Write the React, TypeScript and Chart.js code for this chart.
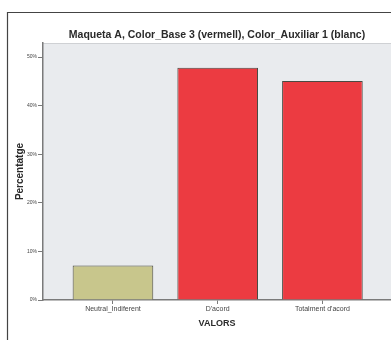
import React, { useEffect, useRef } from "react";
import { Chart, registerables } from "chart.js";

Chart.register(...registerables);

const chartTitle = "Maqueta A, Color_Base 3 (vermell), Color_Auxiliar 1 (blanc)";
const categories = ["Neutral_Indiferent", "D'acord", "Totalment d'acord"];
const percentages = [7.1, 47.8, 45.1];
const barColors = ["#c8c68c", "#ec3b41", "#ec3b41"];
const yTicks = [0, 10, 20, 30, 40, 50];
const yTickLabels = ["0%", "10%", "20%", "30%", "40%", "50%"];
const xTitle = "VALORS";
const yTitle = "Percentatge";

const backdrop = {
  id: "backdrop",
  beforeDraw(chart: any) {
    const { ctx, chartArea, width, height } = chart;
    ctx.save();
    ctx.fillStyle = "#ffffff";
    ctx.fillRect(0, 0, width, height);
    ctx.fillStyle = "#e9ebee";
    ctx.fillRect(chartArea.left, chartArea.top, chartArea.right - chartArea.left, chartArea.bottom - chartArea.top);
    ctx.strokeStyle = "#cfd1d4";
    ctx.lineWidth = 1;
    ctx.beginPath();
    ctx.moveTo(chartArea.left, chartArea.top + 0.5);
    ctx.lineTo(chartArea.right, chartArea.top + 0.5);
    ctx.stroke();
    ctx.strokeStyle = "#444444";
    ctx.lineWidth = 1.2;
    ctx.beginPath();
    ctx.moveTo(7.5, height);
    ctx.lineTo(7.5, 12.5);
    ctx.lineTo(width, 12.5);
    ctx.stroke();
    ctx.restore();
  },
};

export default function App() {
  const ref = useRef<HTMLCanvasElement | null>(null);
  useEffect(() => {
    if (!ref.current) return;
    const font = "'Liberation Sans', Arial, sans-serif";
    const chart = new Chart(ref.current, {
      type: "bar",
      data: {
        datasets: [
          {
            data: categories.map((c, i) => ({ x: i + 1, y: percentages[i] })),
            backgroundColor: barColors,
            borderColor: "#4a4a42",
            borderWidth: 1,
            categoryPercentage: 1,
            barPercentage: 0.77,
          },
        ],
      },
      plugins: [backdrop],
      options: {
        responsive: false,
        animation: false,
        layout: { padding: 0 },
        plugins: {
          legend: { display: false },
          tooltip: { enabled: false },
          title: {
            display: true,
            text: chartTitle,
            fullSize: false,
            color: "#2a2a2a",
            font: { family: font, size: 10.5, weight: "bold", lineHeight: 1.2 },
            padding: { top: 28.7, bottom: 1.7 },
          },
        },
        scales: {
          x: {
            type: "linear",
            offset: false,
            min: 0.332,
            max: 3.655,
            afterBuildTicks: (s: any) => {
              s.ticks = categories.map((_, i) => ({ value: i + 1 }));
            },
            afterFit: (s: any) => {
              s.height = 40;
            },
            grid: { offset: false, drawOnChartArea: false, drawTicks: true, tickLength: 4, color: "#7a7a7a" },
            border: { display: true, color: "#7a7a7a", width: 1.5 },
            ticks: {
              autoSkip: false,
              maxRotation: 0,
              padding: 1,
              color: "#444",
              font: { family: font, size: 7 },
              callback: (v: any) => categories[Number(v) - 1] ?? "",
            },
            title: {
              display: true,
              text: xTitle,
              color: "#2a2a2a",
              font: { family: font, size: 9, weight: "bold", lineHeight: 1.2 },
              padding: { top: 0, bottom: 10.6 },
            },
          },
          y: {
            min: 0,
            max: 52.9,
            afterBuildTicks: (s: any) => {
              s.ticks = yTicks.map((v) => ({ value: v }));
            },
            afterFit: (s: any) => {
              s.width = 43;
            },
            grid: { drawOnChartArea: false, drawTicks: true, tickLength: 5, color: "#7a7a7a" },
            border: { display: true, color: "#7a7a7a", width: 1.5 },
            ticks: {
              padding: 1,
              color: "#444",
              font: { family: font, size: 5 },
              callback: (v: any) => yTickLabels[yTicks.indexOf(Number(v))] ?? "",
            },
            title: {
              display: true,
              text: yTitle,
              color: "#2a2a2a",
              font: { family: font, size: 10, weight: "bold", lineHeight: 1.2 },
              padding: { top: 14, bottom: 0 },
            },
          },
        },
      },
    } as any);
    return () => chart.destroy();
  }, []);
  return (
    <canvas
      ref={ref}
      width={391}
      height={340}
      style={{ position: "fixed", left: 0, top: 0, width: 391, height: 340 }}
    />
  );
}
